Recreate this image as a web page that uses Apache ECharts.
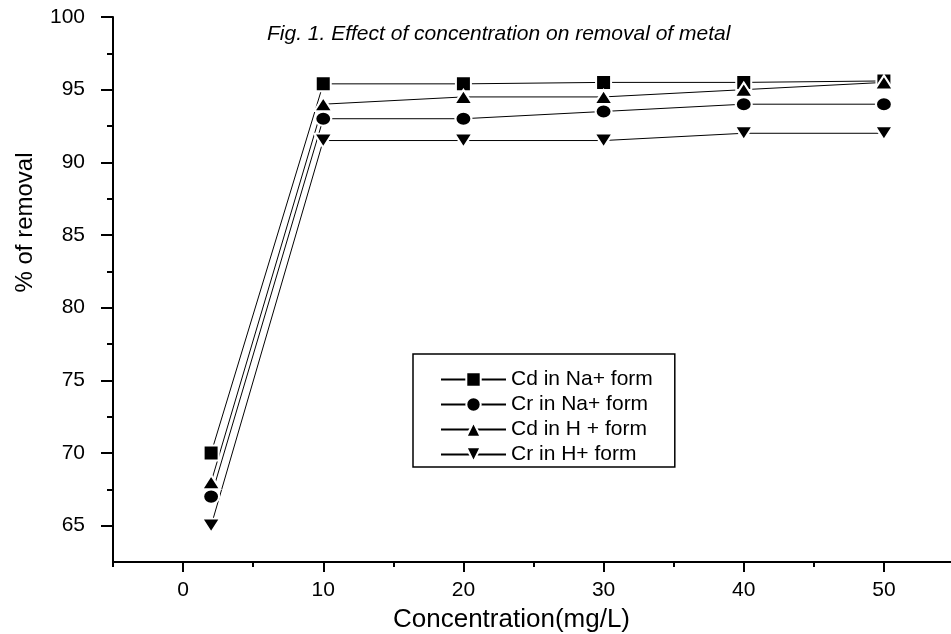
<!DOCTYPE html>
<html>
<head>
    <meta charset="utf-8">
    <script type="text/javascript" src="https://cdn.jsdelivr.net/npm/echarts@6.0.0/dist/echarts.min.js"></script>
    <title></title>
    <style>
        body { margin: 0; background: #fff; }
        #main { width: 951px; height: 634px; }
    </style>
</head>
<body>
<div id="main"></div>
<script type="text/javascript">
    // data
    var concentration = [2, 10, 20, 30, 40, 50];
    var cdNa = [70, 95.4, 95.4, 95.5, 95.5, 95.6];
    var crNa = [67, 93, 93, 93.5, 94, 94];
    var cdH = [68, 94, 94.5, 94.5, 95, 95.5];
    var crH = [65, 91.5, 91.5, 91.5, 92, 92];

    var xMajor = [0, 10, 20, 30, 40, 50];
    var xMinor = [-5, 5, 15, 25, 35, 45];
    var yMajor = [65, 70, 75, 80, 85, 90, 95, 100];
    var yMinor = [67.5, 72.5, 77.5, 82.5, 87.5, 92.5, 97.5];

    var font = 'Liberation Sans, Arial, Helvetica, sans-serif';

    function pairs(ys) {
        var out = [];
        for (var i = 0; i < concentration.length; i++) {
            out.push([concentration[i], ys[i]]);
        }
        return out;
    }

    function makeSeries(name, ys, symbol, size, rotate) {
        return {
            name: name,
            type: 'line',
            data: pairs(ys),
            symbol: symbol,
            symbolSize: size,
            symbolRotate: rotate || 0,
            symbolKeepAspect: false,
            showSymbol: true,
            animation: false,
            lineStyle: {color: '#000', width: 1},
            itemStyle: {color: '#000', borderColor: '#fff', borderWidth: 2}
        };
    }

    var myChart = echarts.init(document.getElementById('main'));
    var option = {
        backgroundColor: '#fff',
        animation: false,
        title: {
            text: 'Fig. 1. Effect of concentration on removal of metal',
            left: 262,
            top: 19,
            textStyle: {
                fontFamily: font,
                fontStyle: 'italic',
                fontWeight: 'normal',
                fontSize: 21,
                color: '#000'
            }
        },
        legend: {
            orient: 'vertical',
            left: 413,
            top: 354,
            padding: [15, 22, 2, 27],
            itemGap: 4,
            itemWidth: 65,
            itemHeight: 18,
            borderColor: '#000',
            borderWidth: 1.5,
            textStyle: {fontFamily: font, fontSize: 21, color: '#000'},
            data: ['Cd in Na+ form', 'Cr in Na+ form', 'Cd in H + form', 'Cr in H+ form']
        },
        grid: {
            left: 113,
            top: 17,
            right: -3,
            bottom: 72,
            containLabel: false,
            outerBoundsMode: 'none'
        },
        xAxis: [{
            type: 'value',
            min: -5,
            max: 55,
            interval: 5,
            name: 'Concentration(mg/L)',
            nameLocation: 'middle',
            nameGap: 45,
            nameTextStyle: {fontFamily: font, fontSize: 26, color: '#000', padding: [0, 44, 0, 0]},
            axisLine: {show: true, onZero: false, lineStyle: {color: '#000', width: 2}},
            axisTick: {show: true, inside: false, length: 10, customValues: xMajor, lineStyle: {color: '#000', width: 2}},
            axisLabel: {margin: 18, customValues: xMajor, fontFamily: font, fontSize: 21, color: '#000'},
            splitLine: {show: false}
        }, {
            type: 'value',
            position: 'bottom',
            min: -5,
            max: 55,
            interval: 5,
            axisLine: {show: false, onZero: false},
            axisTick: {show: true, inside: false, length: 5, customValues: xMinor, lineStyle: {color: '#000', width: 2}},
            axisLabel: {show: false},
            splitLine: {show: false}
        }],
        yAxis: [{
            type: 'value',
            min: 62.5,
            max: 100,
            interval: 2.5,
            name: '% of removal',
            nameLocation: 'middle',
            nameRotate: 90,
            nameGap: 76,
            nameTextStyle: {fontFamily: font, fontSize: 24, color: '#000', padding: [0, 0, 0, 134]},
            axisLine: {show: true, onZero: false, lineStyle: {color: '#000', width: 2}},
            axisTick: {show: true, inside: false, length: 12, customValues: yMajor, lineStyle: {color: '#000', width: 2}},
            axisLabel: {margin: 28, customValues: yMajor, fontFamily: font, fontSize: 21, color: '#000'},
            splitLine: {show: false}
        }, {
            type: 'value',
            position: 'left',
            min: 62.5,
            max: 100,
            interval: 2.5,
            axisLine: {show: false, onZero: false},
            axisTick: {show: true, inside: false, length: 6, customValues: yMinor, lineStyle: {color: '#000', width: 2}},
            axisLabel: {show: false},
            splitLine: {show: false}
        }],
        series: [
            makeSeries('Cd in Na+ form', cdNa, 'rect', [15, 15]),
            makeSeries('Cr in Na+ form', crNa, 'circle', [16, 14]),
            makeSeries('Cd in H + form', cdH, 'triangle', [18, 14]),
            makeSeries('Cr in H+ form', crH, 'triangle', [18, 14], 180)
        ]
    };
    myChart.setOption(option);
</script>
</body>
</html>
